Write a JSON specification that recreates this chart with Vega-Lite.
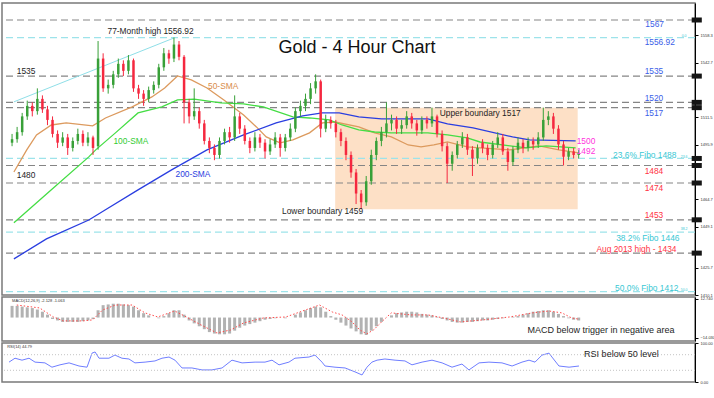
{
"$schema":"https://vega.github.io/schema/vega-lite/v6.json",
"padding":{"left":0,"top":2,"right":0,"bottom":0},
"background":"white",
"spacing":2,
"bounds":"flush",
"config":{"font":"Liberation Sans","view":{"stroke":"#7a7a7a","strokeWidth":1.5},"axis":{"grid":false,"labelFont":"Liberation Sans","labelColor":"#333"},"axisX":{"labelOverlap":false,"labelFontSize":3.8,"labelBound":false,"labelFlush":false}},
"datasets":{
"c":[
{"t":3,"o":1497,"h":1502,"l":1495,"c":1499,"m":8},
{"t":6,"o":1499,"h":1506,"l":1497,"c":1503,"m":8},
{"t":9,"o":1503,"h":1514,"l":1501,"c":1512,"m":7.5},
{"t":12,"o":1512,"h":1521,"l":1510,"c":1518,"m":7},
{"t":15,"o":1518,"h":1520,"l":1512,"c":1515,"m":6.5},
{"t":18,"o":1515,"h":1528,"l":1513,"c":1522,"m":5.5},
{"t":21,"o":1522,"h":1524,"l":1514,"c":1516,"m":4},
{"t":24,"o":1516,"h":1518,"l":1507,"c":1510,"m":2},
{"t":27,"o":1510,"h":1512,"l":1500,"c":1502,"m":-1},
{"t":30,"o":1502,"h":1504,"l":1494,"c":1497,"m":-2},
{"t":33,"o":1497,"h":1503,"l":1495,"c":1500,"m":-3},
{"t":36,"o":1500,"h":1502,"l":1490,"c":1494,"m":-3},
{"t":39,"o":1494,"h":1500,"l":1492,"c":1498,"m":-3},
{"t":42,"o":1498,"h":1505,"l":1496,"c":1502,"m":-3},
{"t":45,"o":1502,"h":1504,"l":1495,"c":1497,"m":-2.5},
{"t":48,"o":1497,"h":1503,"l":1495,"c":1500,"m":-2},
{"t":51,"o":1500,"h":1501,"l":1490,"c":1494,"m":-1},
{"t":54,"o":1495,"h":1555,"l":1493,"c":1545,"m":5},
{"t":57,"o":1545,"h":1548,"l":1526,"c":1528,"m":8.5},
{"t":60,"o":1528,"h":1533,"l":1525,"c":1530,"m":9},
{"t":63,"o":1530,"h":1538,"l":1528,"c":1536,"m":9.5},
{"t":66,"o":1536,"h":1545,"l":1534,"c":1542,"m":9.5},
{"t":69,"o":1542,"h":1544,"l":1535,"c":1538,"m":9},
{"t":72,"o":1538,"h":1547,"l":1536,"c":1544,"m":8.5},
{"t":75,"o":1544,"h":1545,"l":1526,"c":1528,"m":7.5},
{"t":78,"o":1528,"h":1530,"l":1522,"c":1525,"m":5},
{"t":81,"o":1525,"h":1527,"l":1518,"c":1522,"m":3},
{"t":84,"o":1522,"h":1529,"l":1520,"c":1527,"m":1.5},
{"t":87,"o":1527,"h":1532,"l":1525,"c":1530,"m":0},
{"t":90,"o":1530,"h":1542,"l":1528,"c":1540,"m":-0.5},
{"t":93,"o":1540,"h":1551,"l":1538,"c":1548,"m":1},
{"t":96,"o":1548,"h":1550,"l":1542,"c":1545,"m":3},
{"t":99,"o":1545,"h":1557,"l":1543,"c":1553,"m":5},
{"t":102,"o":1553,"h":1555,"l":1544,"c":1546,"m":5},
{"t":105,"o":1546,"h":1547,"l":1508,"c":1520,"m":2},
{"t":108,"o":1520,"h":1522,"l":1508,"c":1512,"m":-2},
{"t":111,"o":1512,"h":1528,"l":1510,"c":1515,"m":-4},
{"t":114,"o":1515,"h":1517,"l":1505,"c":1508,"m":-6},
{"t":117,"o":1508,"h":1510,"l":1496,"c":1498,"m":-8},
{"t":120,"o":1498,"h":1500,"l":1491,"c":1494,"m":-10},
{"t":123,"o":1494,"h":1496,"l":1487,"c":1490,"m":-11},
{"t":126,"o":1490,"h":1500,"l":1488,"c":1498,"m":-11.5},
{"t":129,"o":1498,"h":1505,"l":1496,"c":1503,"m":-11.5},
{"t":132,"o":1503,"h":1506,"l":1497,"c":1500,"m":-11},
{"t":135,"o":1500,"h":1524,"l":1498,"c":1512,"m":-9},
{"t":138,"o":1512,"h":1514,"l":1502,"c":1505,"m":-7},
{"t":141,"o":1505,"h":1507,"l":1496,"c":1498,"m":-5.5},
{"t":144,"o":1498,"h":1500,"l":1491,"c":1494,"m":-4.5},
{"t":147,"o":1494,"h":1503,"l":1492,"c":1500,"m":-3.5},
{"t":150,"o":1500,"h":1502,"l":1494,"c":1497,"m":-2.5},
{"t":153,"o":1497,"h":1499,"l":1488,"c":1492,"m":-1.5},
{"t":156,"o":1492,"h":1499,"l":1490,"c":1496,"m":-1},
{"t":159,"o":1496,"h":1503,"l":1494,"c":1500,"m":-0.5},
{"t":162,"o":1500,"h":1502,"l":1489,"c":1494,"m":0},
{"t":165,"o":1494,"h":1502,"l":1492,"c":1500,"m":-0.5},
{"t":168,"o":1500,"h":1508,"l":1498,"c":1505,"m":0},
{"t":171,"o":1505,"h":1517,"l":1503,"c":1515,"m":2},
{"t":174,"o":1515,"h":1521,"l":1512,"c":1518,"m":3.5},
{"t":177,"o":1518,"h":1525,"l":1515,"c":1522,"m":5},
{"t":180,"o":1522,"h":1531,"l":1519,"c":1528,"m":6.5},
{"t":183,"o":1528,"h":1536,"l":1525,"c":1532,"m":7.5},
{"t":186,"o":1532,"h":1533,"l":1500,"c":1505,"m":7},
{"t":189,"o":1505,"h":1513,"l":1503,"c":1510,"m":4},
{"t":192,"o":1510,"h":1512,"l":1505,"c":1508,"m":1},
{"t":195,"o":1508,"h":1510,"l":1500,"c":1503,"m":-1.5},
{"t":198,"o":1503,"h":1505,"l":1495,"c":1498,"m":-3.5},
{"t":201,"o":1498,"h":1500,"l":1487,"c":1490,"m":-5.5},
{"t":204,"o":1490,"h":1492,"l":1477,"c":1480,"m":-7.5},
{"t":207,"o":1480,"h":1482,"l":1462,"c":1468,"m":-9.5},
{"t":210,"o":1468,"h":1470,"l":1459,"c":1463,"m":-11.5},
{"t":213,"o":1463,"h":1478,"l":1461,"c":1475,"m":-12},
{"t":216,"o":1475,"h":1493,"l":1473,"c":1490,"m":-9},
{"t":219,"o":1490,"h":1500,"l":1487,"c":1498,"m":-6},
{"t":222,"o":1498,"h":1506,"l":1495,"c":1503,"m":-3},
{"t":225,"o":1503,"h":1520,"l":1500,"c":1508,"m":0},
{"t":228,"o":1508,"h":1513,"l":1504,"c":1510,"m":1.5},
{"t":231,"o":1510,"h":1512,"l":1502,"c":1505,"m":3},
{"t":234,"o":1505,"h":1510,"l":1502,"c":1507,"m":3.5},
{"t":237,"o":1507,"h":1515,"l":1505,"c":1512,"m":4},
{"t":240,"o":1512,"h":1514,"l":1505,"c":1508,"m":4},
{"t":243,"o":1508,"h":1510,"l":1501,"c":1504,"m":3.5},
{"t":246,"o":1504,"h":1512,"l":1502,"c":1510,"m":2.5},
{"t":249,"o":1510,"h":1512,"l":1505,"c":1508,"m":2},
{"t":252,"o":1508,"h":1517,"l":1506,"c":1512,"m":1.5},
{"t":255,"o":1512,"h":1513,"l":1500,"c":1502,"m":0.5},
{"t":258,"o":1502,"h":1504,"l":1492,"c":1495,"m":-1},
{"t":261,"o":1495,"h":1497,"l":1474,"c":1485,"m":-2},
{"t":264,"o":1485,"h":1492,"l":1481,"c":1490,"m":-3},
{"t":267,"o":1490,"h":1498,"l":1488,"c":1496,"m":-3.5},
{"t":270,"o":1496,"h":1503,"l":1494,"c":1500,"m":-3.5},
{"t":273,"o":1500,"h":1502,"l":1490,"c":1493,"m":-3},
{"t":276,"o":1493,"h":1495,"l":1478,"c":1488,"m":-3},
{"t":279,"o":1488,"h":1496,"l":1485,"c":1494,"m":-2.5},
{"t":282,"o":1497,"h":1499,"l":1491,"c":1494,"m":-2},
{"t":285,"o":1494,"h":1496,"l":1487,"c":1490,"m":-2},
{"t":288,"o":1490,"h":1498,"l":1488,"c":1496,"m":-1.5},
{"t":291,"o":1496,"h":1503,"l":1494,"c":1500,"m":-1},
{"t":294,"o":1500,"h":1502,"l":1490,"c":1492,"m":-0.5},
{"t":297,"o":1492,"h":1494,"l":1481,"c":1486,"m":0},
{"t":300,"o":1486,"h":1495,"l":1484,"c":1493,"m":0.5},
{"t":303,"o":1493,"h":1500,"l":1491,"c":1497,"m":1},
{"t":306,"o":1497,"h":1499,"l":1491,"c":1494,"m":2},
{"t":309,"o":1494,"h":1500,"l":1492,"c":1498,"m":3},
{"t":312,"o":1498,"h":1500,"l":1493,"c":1496,"m":4},
{"t":315,"o":1496,"h":1503,"l":1494,"c":1500,"m":4.5},
{"t":318,"o":1500,"h":1517,"l":1498,"c":1510,"m":5},
{"t":321,"o":1510,"h":1515,"l":1507,"c":1512,"m":5},
{"t":324,"o":1512,"h":1514,"l":1502,"c":1505,"m":4},
{"t":327,"o":1505,"h":1507,"l":1493,"c":1496,"m":2.5},
{"t":330,"o":1496,"h":1498,"l":1484,"c":1489,"m":1},
{"t":333,"o":1489,"h":1494,"l":1487,"c":1492,"m":-0.5},
{"t":336,"o":1492,"h":1494,"l":1488,"c":1490,"m":-1.5},
{"t":339,"o":1490,"h":1493,"l":1488,"c":1491,"m":-2}
],
"sma":[
{"g":"50","t":4.1,"p":1480.3},{"g":"50","t":11.7,"p":1492.9},{"g":"50","t":17.5,"p":1501.4},{"g":"50","t":26.3,"p":1507.1},{"g":"50","t":35.1,"p":1508.3},{"g":"50","t":50.8,"p":1506.6},{"g":"50","t":58.4,"p":1511.1},{"g":"50","t":74.2,"p":1517.4},{"g":"50","t":85.9,"p":1523.1},{"g":"50","t":93.5,"p":1528.2},{"g":"50","t":101.1,"p":1535.1},{"g":"50","t":109.3,"p":1532.8},{"g":"50","t":118.6,"p":1528.2},{"g":"50","t":128.6,"p":1521.4},{"g":"50","t":140.3,"p":1512.8},{"g":"50","t":147.9,"p":1506.0},{"g":"50","t":153.7,"p":1500.3},{"g":"50","t":161.9,"p":1496.9},{"g":"50","t":169.5,"p":1498.6},{"g":"50","t":179.4,"p":1502.6},{"g":"50","t":187.0,"p":1508.3},{"g":"50","t":194.6,"p":1508.8},{"g":"50","t":208.6,"p":1506.0},{"g":"50","t":218.0,"p":1502.6},{"g":"50","t":227.9,"p":1500.3},{"g":"50","t":237.9,"p":1495.7},{"g":"50","t":245.5,"p":1494.6},{"g":"50","t":253.1,"p":1495.7},{"g":"50","t":261.2,"p":1497.4},{"g":"50","t":272.9,"p":1494.6},{"g":"50","t":280.5,"p":1494.0},{"g":"50","t":298.1,"p":1492.9},{"g":"50","t":315.6,"p":1495.2},{"g":"50","t":327.3,"p":1492.9},{"g":"50","t":339.0,"p":1491.2},
{"g":"100","t":4.1,"p":1451.3},{"g":"100","t":26.3,"p":1470.1},{"g":"100","t":48.5,"p":1488.9},{"g":"100","t":52.6,"p":1492.9},{"g":"100","t":64.3,"p":1502.6},{"g":"100","t":77.7,"p":1514.0},{"g":"100","t":91.8,"p":1517.4},{"g":"100","t":101.1,"p":1521.4},{"g":"100","t":111.0,"p":1521.9},{"g":"100","t":126.8,"p":1519.7},{"g":"100","t":140.3,"p":1519.1},{"g":"100","t":152.0,"p":1517.4},{"g":"100","t":169.5,"p":1511.7},{"g":"100","t":179.4,"p":1511.1},{"g":"100","t":191.1,"p":1510.0},{"g":"100","t":198.7,"p":1507.1},{"g":"100","t":208.6,"p":1504.3},{"g":"100","t":218.0,"p":1503.1},{"g":"100","t":227.9,"p":1502.6},{"g":"100","t":249.6,"p":1502.6},{"g":"100","t":261.2,"p":1501.4},{"g":"100","t":272.9,"p":1499.7},{"g":"100","t":280.5,"p":1497.4},{"g":"100","t":308.0,"p":1494.0},{"g":"100","t":319.7,"p":1495.2},{"g":"100","t":337.2,"p":1494.0},
{"g":"200","t":4.1,"p":1430.7},{"g":"200","t":23.4,"p":1442.1},{"g":"200","t":48.5,"p":1452.9},{"g":"200","t":58.4,"p":1458.7},{"g":"200","t":77.7,"p":1470.1},{"g":"200","t":97.6,"p":1481.5},{"g":"200","t":118.6,"p":1492.9},{"g":"200","t":140.3,"p":1501.4},{"g":"200","t":159.6,"p":1508.3},{"g":"200","t":175.3,"p":1512.3},{"g":"200","t":187.0,"p":1514.0},{"g":"200","t":197.0,"p":1514.0},{"g":"200","t":208.6,"p":1511.7},{"g":"200","t":222.1,"p":1510.6},{"g":"200","t":249.6,"p":1510.6},{"g":"200","t":261.2,"p":1507.7},{"g":"200","t":276.4,"p":1505.4},{"g":"200","t":299.8,"p":1500.3},{"g":"200","t":309.8,"p":1498.6},{"g":"200","t":337.2,"p":1498.0}
],
"sig":[
{"t":5.8,"v":8.6},{"t":19.3,"v":6.6},{"t":27.5,"v":0.4},{"t":33.3,"v":-2.3},{"t":45.0,"v":-2.3},{"t":50.8,"v":-1.6},{"t":56.7,"v":5.2},{"t":64.3,"v":8.6},{"t":74.2,"v":8.6},{"t":81.8,"v":3.2},{"t":89.4,"v":0.4},{"t":99.4,"v":4.5},{"t":105.2,"v":1.1},{"t":115.1,"v":-5.1},{"t":124.5,"v":-10.6},{"t":132.7,"v":-8.5},{"t":140.3,"v":-3.7},{"t":152.0,"v":-0.3},{"t":165.4,"v":0.4},{"t":175.3,"v":4.5},{"t":185.3,"v":8.6},{"t":192.9,"v":3.8},{"t":198.7,"v":1.8},{"t":204.6,"v":-3},{"t":209.2,"v":-8.5},{"t":213.3,"v":-11.2},{"t":217.4,"v":-8.5},{"t":222.1,"v":-3},{"t":227.9,"v":3.2},{"t":239.6,"v":1.8},{"t":249.6,"v":1.8},{"t":258.9,"v":-0.3},{"t":268.8,"v":-3},{"t":282.3,"v":-1.6},{"t":298.1,"v":0.4},{"t":311.5,"v":3.2},{"t":321.4,"v":4.5},{"t":329.0,"v":3.2},{"t":334.9,"v":-0.3},{"t":339.0,"v":-1.1}
],
"rsi":[
{"t":4.1,"v":51},{"t":7.6,"v":61},{"t":11.7,"v":56},{"t":15.8,"v":61},{"t":19.3,"v":51},{"t":25.1,"v":49},{"t":29.2,"v":38},{"t":33.9,"v":44},{"t":39.2,"v":49},{"t":45.0,"v":41},{"t":49.7,"v":38},{"t":52.6,"v":74},{"t":54.4,"v":77},{"t":56.7,"v":61},{"t":62.5,"v":61},{"t":66.0,"v":69},{"t":70.1,"v":61},{"t":74.2,"v":59},{"t":77.7,"v":49},{"t":83.6,"v":51},{"t":89.4,"v":54},{"t":93.5,"v":61},{"t":97.6,"v":64},{"t":101.1,"v":56},{"t":105.2,"v":36},{"t":111.0,"v":36},{"t":116.9,"v":31},{"t":122.7,"v":31},{"t":128.6,"v":36},{"t":134.4,"v":56},{"t":140.3,"v":49},{"t":147.9,"v":51},{"t":153.7,"v":51},{"t":157.8,"v":56},{"t":161.9,"v":44},{"t":167.7,"v":51},{"t":171.2,"v":61},{"t":179.4,"v":64},{"t":182.9,"v":69},{"t":187.0,"v":51},{"t":188.8,"v":41},{"t":194.6,"v":38},{"t":200.5,"v":36},{"t":206.3,"v":26},{"t":210.4,"v":18},{"t":213.3,"v":38},{"t":216.2,"v":51},{"t":219.2,"v":56},{"t":223.8,"v":59},{"t":229.7,"v":56},{"t":235.5,"v":54},{"t":239.6,"v":44},{"t":245.5,"v":51},{"t":251.3,"v":56},{"t":257.2,"v":49},{"t":263.0,"v":38},{"t":268.8,"v":46},{"t":272.9,"v":31},{"t":278.8,"v":49},{"t":284.6,"v":51},{"t":292.2,"v":49},{"t":298.1,"v":41},{"t":303.9,"v":51},{"t":308.0,"v":56},{"t":311.5,"v":51},{"t":315.6,"v":69},{"t":319.7,"v":74},{"t":321.4,"v":64},{"t":325.5,"v":41},{"t":331.4,"v":38},{"t":337.2,"v":41}
],
"lvg":[{"p":1567},{"p":1535},{"p":1520},{"p":1517},{"p":1484},{"p":1474},{"p":1453},{"p":1434}],
"lvc":[{"p":1556.92},{"p":1488},{"p":1446},{"p":1412}],
"box":[{"p":1567},{"p":1535},{"p":1520},{"p":1517},{"p":1488},{"p":1484},{"p":1474},{"p":1453},{"p":1434}],
"zone":[{"x1":194.6,"x2":338.4,"y1":1459,"y2":1517}],
"trend":[{"x1":4.1,"y1":1520.3,"x2":99.4,"y2":1556.9}],
"ttl":[{"t":207.5,"p":1551.0,"s":"Gold - 4 Hour Chart"}],
"txt":[
{"t":59.6,"p":1560.7,"s":"77-Month high 1556.92","g":"k"},
{"t":5.8,"p":1537.9,"s":"1535","g":"k"},
{"t":119.2,"p":1529.4,"s":"50-SMA","g":"o"},
{"t":63.1,"p":1498.0,"s":"100-SMA","g":"gr"},
{"t":99.9,"p":1479.2,"s":"200-SMA","g":"b"},
{"t":5.8,"p":1478.6,"s":"1480","g":"k"},
{"t":256.6,"p":1514.0,"s":"Upper boundary 1517","g":"k"},
{"t":163.1,"p":1458.1,"s":"Lower boundary 1459","g":"k"},
{"t":378.5,"p":1564.7,"s":"1567","g":"rb"},
{"t":378.1,"p":1554.5,"s":"1556.92","g":"rb"},
{"t":378.1,"p":1537.9,"s":"1535","g":"rb"},
{"t":378.1,"p":1522.5,"s":"1520","g":"rb"},
{"t":378.1,"p":1514.0,"s":"1517","g":"rb"},
{"t":337.8,"p":1498.0,"s":"1500","g":"m"},
{"t":337.8,"p":1492.3,"s":"1492","g":"m"},
{"t":359.4,"p":1490.0,"s":"23.6% Fibo 1488","g":"cy"},
{"t":378.1,"p":1480.9,"s":"1484","g":"r"},
{"t":378.1,"p":1471.2,"s":"1474","g":"r"},
{"t":378.1,"p":1456.0,"s":"1453","g":"r"},
{"t":361.2,"p":1442.7,"s":"38.2% Fibo 1446","g":"cy"},
{"t":349.5,"p":1436.4,"s":"Aug 2013 high - 1434","g":"r"},
{"t":360.6,"p":1414.2,"s":"50.0% Fibo 1412","g":"cy"}
],
"tiny":[{"t":401.5,"p":1557.8,"s":"0.0"},{"t":401.5,"p":1489,"s":"23.6"},{"t":401.5,"p":1447.5,"s":"38.2"},{"t":401.5,"p":1413,"s":"50.0"}],
"macdA":[{"t":3,"v":11.4,"s":"MACD(12,26,9) -2.128 -1.063"}],
"macdB":[{"t":308.6,"v":-8.5,"s":"MACD below trigger in negative area"}],
"rsiA":[{"t":3,"v":89,"s":"RSI(14) 44.79"}],
"rsiB":[{"t":340.2,"v":71,"s":"RSI below 50 level"}],
"rsiLv":[{"v":70},{"v":30}]
},
"vconcat":[
{
"width":693,"height":292,
"layer":[
{"data":{"name":"zone"},"mark":{"type":"rect","color":"#fde0c6"},
 "encoding":{"x":{"field":"x1","type":"quantitative","scale":{"domain":[0,405],"nice":false,"zero":false},"axis":null},"x2":{"field":"x2"},
 "y":{"field":"y1","type":"quantitative","title":null,"scale":{"domain":[1410.1,1576.7],"nice":false,"zero":false},
  "axis":{"orient":"right","title":null,"values":[1573.9,1558.3,1550.5,1542.7,1527.1,1511.5,1503.7,1495.9,1480.3,1464.7,1456.9,1449.1,1441.3,1425.7,1417.9,1410.1],"format":".1f","labelFontSize":4,"tickSize":3,"labelPadding":2,"domainColor":"#000","tickColor":"#000","labelOverlap":false}},
 "y2":{"field":"y2"}}},
{"data":{"name":"lvg"},"mark":{"type":"rule","strokeDash":[7,4],"strokeWidth":1.2,"color":"#858585"},
 "encoding":{"y":{"field":"p","type":"quantitative","title":null}}},
{"data":{"name":"lvc"},"mark":{"type":"rule","strokeDash":[7,4],"strokeWidth":1.2,"color":"#9de3ea"},
 "encoding":{"y":{"field":"p","type":"quantitative","title":null}}},
{"data":{"name":"trend"},"mark":{"type":"rule","color":"#8fdfe8","strokeWidth":1},
 "encoding":{"x":{"field":"x1","type":"quantitative","axis":null},"x2":{"field":"x2"},"y":{"field":"y1","type":"quantitative","title":null},"y2":{"field":"y2"}}},
{"data":{"name":"sma"},"mark":{"type":"line","strokeWidth":1.3},
 "encoding":{"x":{"field":"t","type":"quantitative","axis":null},"y":{"field":"p","type":"quantitative","title":null},
 "color":{"field":"g","type":"nominal","scale":{"domain":["50","100","200","k","o","gr","b","rb","m","cy","r"],"range":["#dc9a5e","#44dd44","#2a3ee0","#1e1e1e","#d98c4a","#33cc33","#2a3ee0","#3a5ee8","#ff33dd","#38c8d4","#ff3344"]},"legend":null}}},
{"data":{"name":"c"},"mark":{"type":"rule","strokeWidth":1},
 "encoding":{"x":{"field":"t","type":"quantitative","axis":null},"y":{"field":"l","type":"quantitative","title":null},"y2":{"field":"h"},
 "color":{"condition":{"test":"datum.c >= datum.o","value":"#38a038"},"value":"#f5283f"}}},
{"data":{"name":"c"},"mark":{"type":"bar","size":2.5},
 "encoding":{"x":{"field":"t","type":"quantitative","axis":null},"y":{"field":"o","type":"quantitative","title":null},"y2":{"field":"c"},
 "color":{"condition":{"test":"datum.c >= datum.o","value":"#38a038"},"value":"#f5283f"}}},
{"data":{"name":"box"},"mark":{"type":"rule","strokeWidth":5,"color":"#151515","clip":false,"strokeCap":"butt"},
 "encoding":{"x":{"datum":406,"type":"quantitative","axis":null},"x2":{"datum":412},"y":{"field":"p","type":"quantitative","title":null}}},
{"data":{"name":"ttl"},"mark":{"type":"text","fontSize":18,"align":"center","baseline":"middle","color":"#111"},
 "encoding":{"x":{"field":"t","type":"quantitative","axis":null},"y":{"field":"p","type":"quantitative","title":null},"text":{"field":"s"}}},
{"data":{"name":"txt"},"mark":{"type":"text","fontSize":8.4,"align":"left","baseline":"middle"},
 "encoding":{"x":{"field":"t","type":"quantitative","axis":null},"y":{"field":"p","type":"quantitative","title":null},"text":{"field":"s"},
 "color":{"field":"g","type":"nominal","scale":{"domain":["50","100","200","k","o","gr","b","rb","m","cy","r"],"range":["#dc9a5e","#44dd44","#2a3ee0","#1e1e1e","#d98c4a","#33cc33","#2a3ee0","#3a5ee8","#ff33dd","#38c8d4","#ff3344"]},"legend":null}}},
{"data":{"name":"tiny"},"mark":{"type":"text","fontSize":3.5,"align":"center","baseline":"middle","color":"#38c8d4"},
 "encoding":{"x":{"field":"t","type":"quantitative","axis":null},"y":{"field":"p","type":"quantitative","title":null},"text":{"field":"s"}}}
]
},
{
"width":693,"height":44,
"layer":[
{"data":{"name":"c"},"mark":{"type":"bar","size":3,"color":"#b2b2b2"},
 "encoding":{"x":{"field":"t","type":"quantitative","scale":{"domain":[0,405],"nice":false,"zero":false},"axis":null},
 "y":{"field":"m","type":"quantitative","title":null,"scale":{"domain":[-16.1,14.1],"nice":false,"zero":false},
  "axis":{"orient":"right","title":null,"values":[12.74,0,-14.03],"format":".3f","labelFontSize":4,"tickSize":3,"labelPadding":2,"domainColor":"#000","tickColor":"#000","labelOverlap":false}}}},
{"data":{"name":"sig"},"mark":{"type":"line","color":"#ff4a4a","strokeWidth":1,"strokeDash":[1.5,2]},
 "encoding":{"x":{"field":"t","type":"quantitative","axis":null},"y":{"field":"v","type":"quantitative","title":null}}},
{"data":{"name":"macdA"},"mark":{"type":"text","fontSize":4,"align":"left","baseline":"middle","color":"#333"},
 "encoding":{"x":{"field":"t","type":"quantitative","axis":null},"y":{"field":"v","type":"quantitative","title":null},"text":{"field":"s"}}},
{"data":{"name":"macdB"},"mark":{"type":"text","fontSize":9,"align":"left","baseline":"middle","color":"#1e1e1e"},
 "encoding":{"x":{"field":"t","type":"quantitative","axis":null},"y":{"field":"v","type":"quantitative","title":null},"text":{"field":"s"}}}
]
},
{
"width":693,"height":39,
"layer":[
{"data":{"name":"rsi"},"mark":{"type":"line","color":"#6f7eff","strokeWidth":1},
 "encoding":{"x":{"field":"t","type":"quantitative","title":null,"scale":{"domain":[0,405],"nice":false,"zero":false},
  "axis":{"orient":"bottom","title":null,"values":[1,14,30,46,62,78,94,110,126,142,158,174,190,206,222,238,254,270,286,302,318,334],
  "labelExpr":"datum.value < 5 ? 'Aug 2019' : ['20 Aug 16:00','23 Aug 08:00','26 Aug 00:00','27 Aug 16:00','30 Aug 08:00','4 Sep 00:00','6 Sep 20:00','11 Sep 12:00','16 Sep 04:00','18 Sep 20:00','23 Sep 12:00','26 Sep 04:00','30 Sep 20:00','3 Oct 12:00','8 Oct 04:00','10 Oct 20:00','15 Oct 12:00','18 Oct 04:00','22 Oct 20:00','25 Oct 12:00','30 Oct 04:00'][round((datum.value-14)/16)]",
  "labelAlign":"left","labelFontSize":3.8,"labelColor":"#333","tickSize":3,"labelPadding":1,"domainColor":"#000","tickColor":"#000","labelOverlap":false,"labelBound":false,"labelFlush":false}},
 "y":{"field":"v","type":"quantitative","title":null,"scale":{"domain":[0,100],"nice":false,"zero":false},
  "axis":{"orient":"right","title":null,"values":[100,70,50,30,0],"format":".2f","labelFontSize":4,"tickSize":3,"labelPadding":2,"domainColor":"#000","tickColor":"#000","labelOverlap":false}}}},
{"data":{"name":"rsiLv"},"mark":{"type":"rule","color":"#c4c4c4","strokeDash":[1,2],"strokeWidth":1},
 "encoding":{"y":{"field":"v","type":"quantitative","title":null}}},
{"data":{"name":"rsiA"},"mark":{"type":"text","fontSize":4,"align":"left","baseline":"middle","color":"#333"},
 "encoding":{"x":{"field":"t","type":"quantitative","axis":null},"y":{"field":"v","type":"quantitative","title":null},"text":{"field":"s"}}},
{"data":{"name":"rsiB"},"mark":{"type":"text","fontSize":9,"align":"left","baseline":"middle","color":"#1e1e1e"},
 "encoding":{"x":{"field":"t","type":"quantitative","axis":null},"y":{"field":"v","type":"quantitative","title":null},"text":{"field":"s"}}}
]
}
]
}
